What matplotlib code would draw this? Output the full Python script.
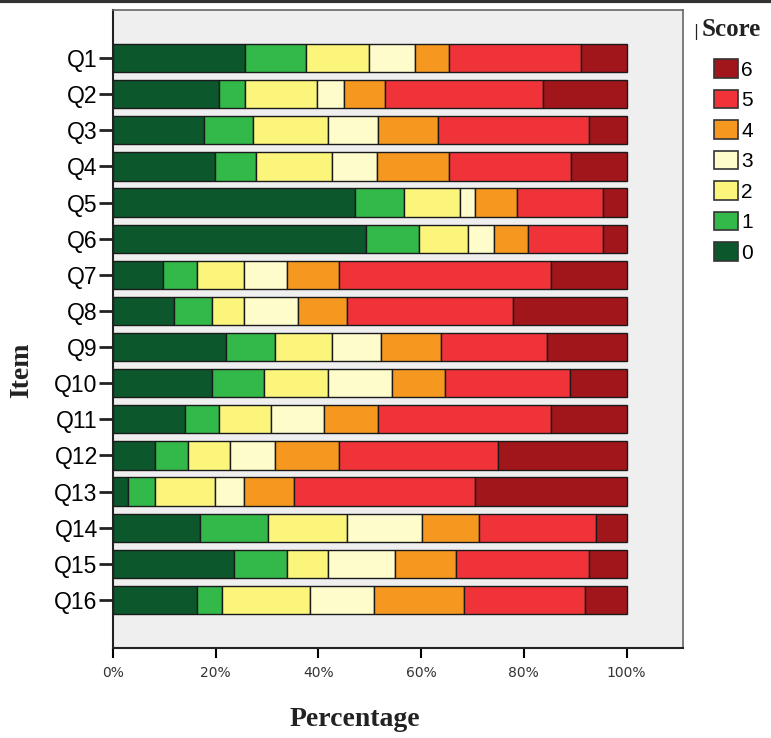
import numpy as np
import matplotlib
matplotlib.use("Agg")
import matplotlib.pyplot as plt
from matplotlib.patches import Patch
from matplotlib.ticker import PercentFormatter

items = [f"Q{i}" for i in range(1, 17)]
scores = ["0", "1", "2", "3", "4", "5", "6"]

# percentage of answers per score, one row per item (score 0..6)
pct = np.array([
    [25.8, 11.7, 12.3, 9.1, 6.6, 25.7, 8.8],
    [20.7, 5.0, 14.0, 5.2, 8.0, 30.9, 16.2],
    [17.7, 9.6, 14.5, 9.8, 11.7, 29.3, 7.4],
    [19.8, 8.0, 14.8, 8.8, 14.1, 23.6, 10.9],
    [47.1, 9.6, 10.8, 2.9, 8.2, 16.9, 4.5],
    [49.3, 10.2, 9.6, 5.1, 6.7, 14.6, 4.5],
    [9.7, 6.6, 9.3, 8.2, 10.2, 41.3, 14.7],
    [11.8, 7.4, 6.4, 10.4, 9.6, 32.3, 22.1],
    [22.1, 9.5, 11.0, 9.6, 11.7, 20.6, 15.5],
    [19.3, 10.1, 12.4, 12.6, 10.3, 24.3, 11.0],
    [14.1, 6.6, 10.0, 10.4, 10.5, 33.7, 14.7],
    [8.2, 6.5, 8.1, 8.8, 12.4, 30.9, 25.1],
    [3.0, 5.1, 11.7, 5.8, 9.7, 35.1, 29.6],
    [16.9, 13.3, 15.4, 14.6, 11.0, 22.9, 5.9],
    [23.5, 10.3, 8.1, 13.1, 11.8, 25.8, 7.4],
    [16.4, 4.9, 17.0, 12.5, 17.5, 23.6, 8.1],
])
pct = pct / pct.sum(axis=1, keepdims=True) * 100

colors = ["#0c582c", "#33b94a", "#fbf57b", "#fefccb", "#f6981f", "#ef3339", "#a1161b"]

fig = plt.figure(figsize=(7.71, 7.38), dpi=100)
ax = fig.add_axes([113 / 771, 1 - 648 / 738, 570 / 771, 638 / 738])
ax.set_facecolor("#efefef")

y = np.arange(len(items))
left = np.zeros(len(items))
for k in range(len(scores)):
    ax.barh(y, pct[:, k], left=left, height=0.78, color=colors[k],
            edgecolor="#1a1a1a", linewidth=1.0)
    left += pct[:, k]

ax.set_ylim(15 + 1.33, -1.33)
ax.set_xlim(0, 111)
ax.set_xticks([0, 20, 40, 60, 80, 100])
ax.xaxis.set_major_formatter(PercentFormatter(decimals=0))
ax.set_yticks(y)
ax.set_yticklabels(items, fontsize=16.5, family="Liberation Sans")
ax.tick_params(axis="y", length=10, width=2, pad=1, color="#222222")
ax.tick_params(axis="x", length=7, width=1.5, labelsize=10, labelcolor="#333333", pad=6)
for s in ["left", "bottom"]:
    ax.spines[s].set_color("#222222")
    ax.spines[s].set_linewidth(1.5)
for s in ["top", "right"]:
    ax.spines[s].set_color("#666666")
    ax.spines[s].set_linewidth(1.2)

fig.text(22 / 771, 1 - 370 / 738, "Item", rotation=90, ha="center", va="center",
         fontsize=20, fontweight="bold", family="Liberation Serif", color="#222222")
fig.text(355 / 771, 1 - 720 / 738, "Percentage", ha="center", va="center",
         fontsize=20, fontweight="bold", family="Liberation Serif", color="#222222")

fig.text(731 / 771, 1 - 30 / 738, "Score", ha="center", va="center",
         fontsize=18, fontweight="bold", family="Liberation Serif", color="#222222")
fig.text(696 / 771, 1 - 32 / 738, "|", ha="center", va="center",
         fontsize=11, family="DejaVu Sans", color="#222222")

handles = [Patch(facecolor=colors[k], edgecolor="#333333", linewidth=1.2)
           for k in range(len(scores) - 1, -1, -1)]
labels = scores[::-1]
fig.legend(handles, labels, loc="upper left", bbox_to_anchor=(706 / 771, 1 - 51 / 738),
           frameon=False, handlelength=1.15, handleheight=1.0,
           handletextpad=0.15, labelspacing=0.48, borderaxespad=0,
           prop={"family": "Liberation Sans", "size": 15})

fig.add_artist(plt.Line2D([0, 1], [0.998, 0.998], transform=fig.transFigure,
                          color="#333333", linewidth=3))

fig.savefig("out.png", dpi=100)
